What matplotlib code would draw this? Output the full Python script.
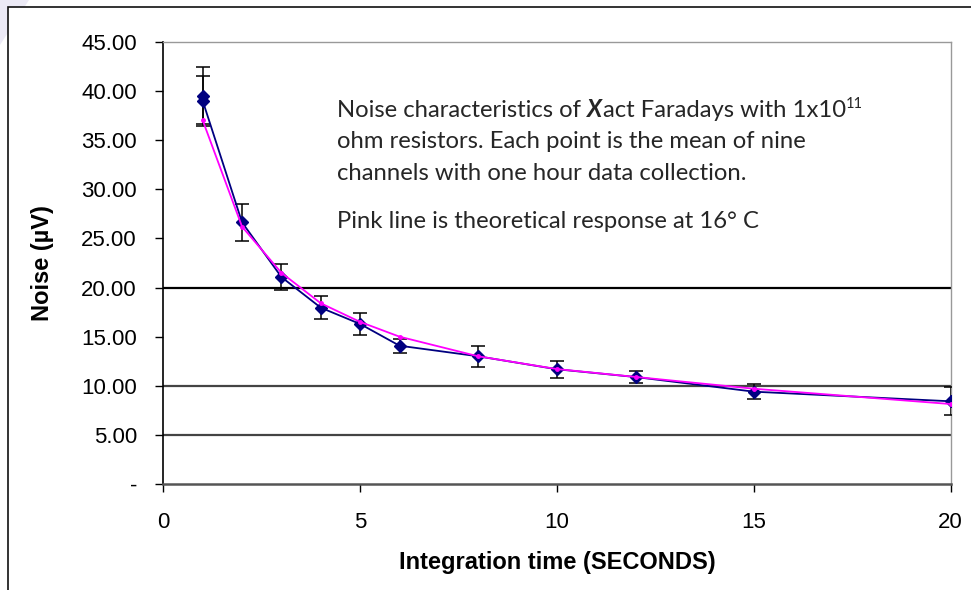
import numpy as np
import matplotlib
matplotlib.use("Agg")
import matplotlib.pyplot as plt
from matplotlib.patches import Polygon, Rectangle

# data
t_sec = [1, 2, 3, 4, 5, 6, 8, 10, 12, 15, 20]
noise = [39.02, 26.64, 21.07, 17.95, 16.29, 14.08, 13.00, 11.68, 10.89, 9.40, 8.42]
noise_err = [2.55, 1.87, 1.33, 1.20, 1.13, 0.70, 1.08, 0.85, 0.65, 0.78, 1.42]
# second measurement at 1 s (marker only)
t_extra = [1]
noise_extra = [39.53]
err_extra = [2.89]
# theoretical response at 16 C
theory = [37.03, 26.2, 21.5, 18.4, 16.5, 15.0, 13.0, 11.7, 10.9, 9.7, 8.14]
grid_levels = [5, 10, 20]
y_ticks = [0, 5, 10, 15, 20, 25, 30, 35, 40, 45]
x_ticks = [0, 5, 10, 15, 20]

W, H = 971, 590
fig = plt.figure(figsize=(W / 100, H / 100), dpi=100)

# faint slide background in the corner + chart area border
fig.patches.append(Polygon([[0, 1], [29 / W, 1], [0, 1 - 45 / H]], closed=True,
                           transform=fig.transFigure, facecolor="#ECEAF6", edgecolor="none",
                           zorder=-2))
fig.patches.append(Rectangle((8 / W, -0.1), 1.2, 1 - 7 / H + 0.1, transform=fig.transFigure,
                             facecolor="white", edgecolor="#111111", lw=1.2, zorder=-1))

ax = fig.add_axes([163.3 / W, 1 - 484 / H, (950.7 - 163.3) / W, (484 - 42) / H])
ax.set_xlim(0, 20)
ax.set_ylim(0, 45)
ax.patch.set_alpha(0)

for g in grid_levels:
    ax.axhline(g, color="black" if g == 20 else "#444444", lw=1.6, zorder=1)

ax.errorbar(t_sec, noise, yerr=noise_err, color="#000080", lw=1.3, marker="D", ms=6.5,
            ecolor="black", elinewidth=1.1, capsize=5, capthick=1.1, zorder=3)
ax.errorbar(t_extra, noise_extra, yerr=err_extra, fmt="D", color="#000080", ms=6.5,
            ecolor="black", elinewidth=1.1, capsize=5, capthick=1.1, zorder=3)
ax.plot(t_sec, theory, color="#FF00FF", lw=1.3, marker="o", ms=2.5, zorder=4)

ax.set_xticks(x_ticks)
ax.set_yticks(y_ticks)
ax.set_yticklabels(["-" if v == 0 else "%.2f" % v for v in y_ticks])
ax.tick_params(axis="both", direction="out", length=6, width=1, labelsize=16)
ax.tick_params(axis="y", pad=13)
ax.tick_params(axis="x", pad=14)
for lab in ax.get_xticklabels() + ax.get_yticklabels():
    lab.set_fontfamily("Liberation Sans")

ax.spines["left"].set_color("black")
ax.spines["left"].set_linewidth(1.2)
ax.spines["bottom"].set_color("#555555")
ax.spines["bottom"].set_linewidth(1.8)
for s in ["top", "right"]:
    ax.spines[s].set_color("#999999")
    ax.spines[s].set_linewidth(1)

fig.text(557 / W, 1 - 563 / H, "Integration time (SECONDS)", ha="center", va="center",
         fontsize=17, fontweight="bold", family="Liberation Sans")
fig.text(42 / W, 1 - 263 / H, "Noise (\u00b5V)", ha="center", va="center", rotation=90,
         fontsize=17, fontweight="bold", family="Liberation Sans")

# note text, built piece by piece (bold italic X and superscript)
note_font = "Lato"
note_size = 17.2
note_color = "#262626"
r = fig.canvas.get_renderer()


def put(x_px, y_px, s, **kw):
    t = fig.text(x_px / W, 1 - y_px / H, s, va="baseline", ha="left", color=note_color,
                 family=note_font, **kw)
    bb = t.get_window_extent(renderer=r)
    return bb.x1


probe1 = fig.text(0, 0, "o o", family=note_font, fontsize=note_size)
probe2 = fig.text(0, 0, "oo", family=note_font, fontsize=note_size)
space_w = probe1.get_window_extent(renderer=r).width - probe2.get_window_extent(renderer=r).width
probe1.remove()
probe2.remove()

x1 = put(337, 117, "Noise characteristics of", fontsize=note_size)
x1 = put(x1 + space_w, 117, "X", fontsize=note_size, fontweight="bold", style="italic")
x1 = put(x1 + 0.5, 117, "act Faradays with 1x10", fontsize=note_size)
put(x1 + 0.5, 108, "11", fontsize=note_size * 0.62)
put(337, 148.5, "ohm resistors. Each point is the mean of nine", fontsize=note_size)
put(337, 180, "channels with one hour data collection.", fontsize=note_size)
put(337, 228, "Pink line is theoretical response at 16\u00b0 C", fontsize=note_size)

fig.savefig("out.png", dpi=100)
